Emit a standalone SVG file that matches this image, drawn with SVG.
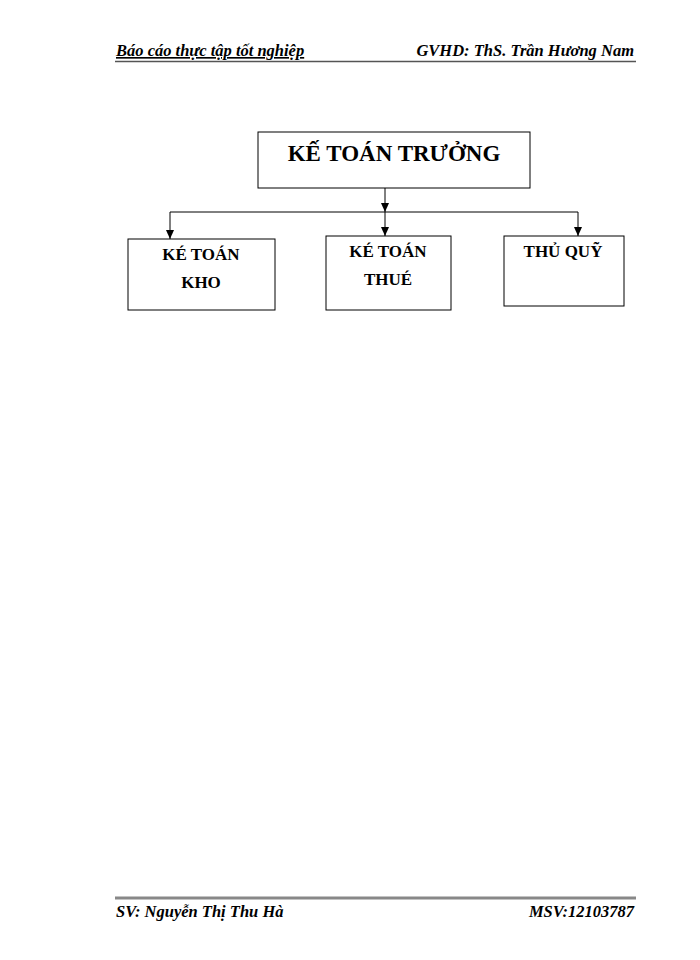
<svg xmlns="http://www.w3.org/2000/svg" width="700" height="960" viewBox="0 0 700 960">
<style>
.b{fill:#fff;stroke:#000;stroke-width:1}
.t{font-family:"Liberation Serif",serif;font-weight:bold;fill:#000;text-anchor:middle}
.h{font-family:"Liberation Serif",serif;font-weight:bold;font-style:italic;font-size:16.5px;fill:#000}
.c{stroke:#000;stroke-width:1;fill:none}
</style>
<defs><marker id="d" markerWidth="8" markerHeight="9" refX="4" refY="9" orient="0" markerUnits="userSpaceOnUse"><path d="M0,0 L8,0 L4,9 Z" fill="#000"/></marker></defs>
<rect width="700" height="960" fill="#fff"/>
<g id="header"><text class="h" x="116" y="56" text-decoration="underline">Báo cáo thực tập tốt nghiệp</text><text class="h" x="634" y="56" text-anchor="end">GVHD: ThS. Trần Hương Nam</text>
<line x1="115" y1="61.5" x2="636" y2="61.5" stroke="#555" stroke-width="1.5"/></g>
<g id="footer"><line x1="115" y1="898" x2="636" y2="898" stroke="#888" stroke-width="3"/><text class="h" x="116" y="917">SV: Nguyễn Thị Thu Hà</text><text class="h" x="634" y="917" text-anchor="end">MSV:12103787</text></g>
<g id="n0"><rect class="b" x="258" y="132" width="272" height="56"/><text class="t" x="394" y="161" font-size="23">KẾ TOÁN TRƯỞNG</text></g>
<g id="n1"><rect class="b" x="128" y="239" width="147" height="71"/><text class="t" x="201" y="260" font-size="17">KÉ TOÁN</text><text class="t" x="201" y="288" font-size="17">KHO</text></g>
<g id="n2"><rect class="b" x="326" y="236" width="125" height="74"/><text class="t" x="388" y="257" font-size="17">KÉ TOÁN</text><text class="t" x="388" y="285" font-size="17">THUÉ</text></g>
<g id="n3"><rect class="b" x="504" y="236" width="120" height="70"/><text class="t" x="563" y="257" font-size="17">THỦ QUỸ</text></g>
<g id="connectors">
<line class="c" x1="385" y1="188" x2="385" y2="212" marker-end="url(#d)"/>
<line class="c" x1="170" y1="212" x2="578" y2="212"/>
<line class="c" x1="170" y1="212" x2="170" y2="239" marker-end="url(#d)"/>
<line class="c" x1="578" y1="212" x2="578" y2="236" marker-end="url(#d)"/>
<line class="c" x1="385" y1="212" x2="385" y2="236" marker-end="url(#d)"/>
</g>
</svg>
